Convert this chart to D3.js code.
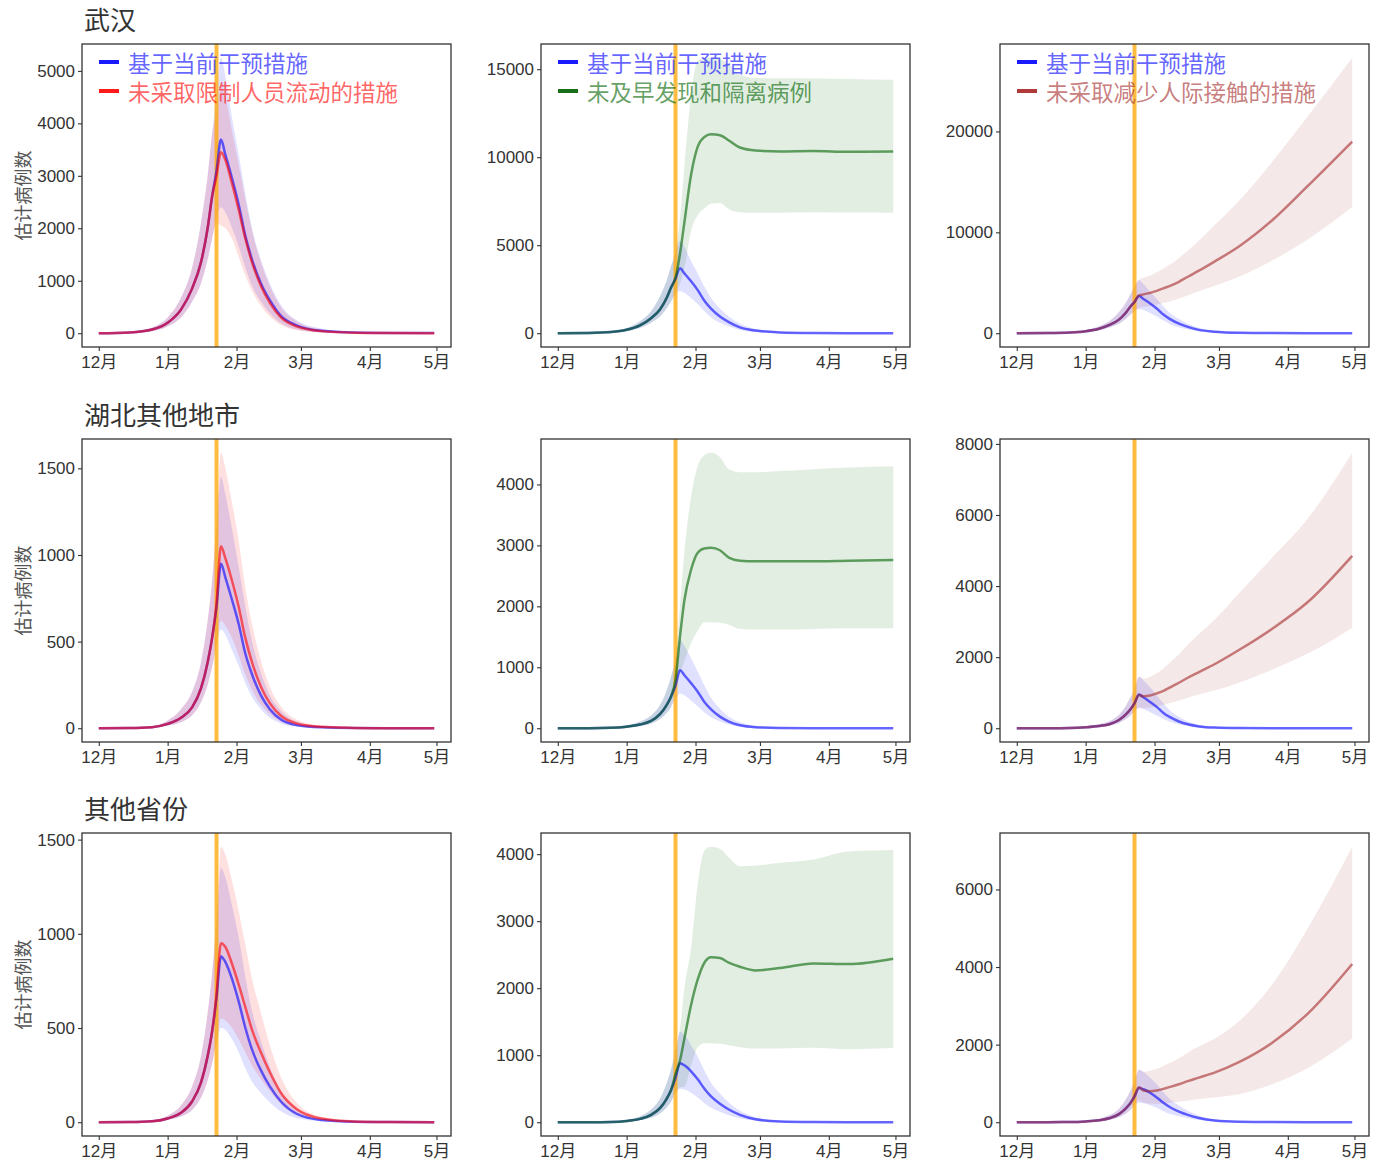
<!DOCTYPE html>
<html>
<head>
<meta charset="utf-8">
<script src="https://cdn.jsdelivr.net/npm/d3@7"></script>
<style>
  body { margin: 0; background: #fff; }
  svg text { font-family: "Liberation Sans", "Noto Sans CJK SC", sans-serif; }
  .cjk { font-family: "Noto Sans CJK SC", sans-serif; }
</style>
</head>
<body>
<svg id="chart" width="1381" height="1167"></svg>
<script>
// sampled dates (Dec 1 - Apr 30)
var dates = ["2019-12-01","2019-12-15","2019-12-25","2020-01-01","2020-01-07","2020-01-12",
  "2020-01-16","2020-01-19","2020-01-21","2020-01-23","2020-01-25","2020-01-27","2020-01-30",
  "2020-02-02","2020-02-05","2020-02-08","2020-02-12","2020-02-16","2020-02-21","2020-02-28",
  "2020-03-10","2020-03-25","2020-04-10","2020-04-30"];
var lockdown = "2020-01-23";
var monthTicks = ["2019-12-01","2020-01-01","2020-02-01","2020-03-01","2020-04-01","2020-05-01"];
var monthLabels = ["12月","1月","2月","3月","4月","5月"];

var regions = ["武汉", "湖北其他地市", "其他省份"];
var baseName = "基于当前干预措施";
var altNames = ["未采取限制人员流动的措施", "未及早发现和隔离病例", "未采取减少人际接触的措施"];
var yLabel = "估计病例数";

// baseline (current interventions), all dates
var wuhanBase   = [0,15,70,200,450,850,1350,2000,2600,3100,3690,3400,2950,2450,1850,1400,950,630,330,150,45,12,4,2];
var wuhanBaseLo = [0,8,40,130,300,600,950,1400,1800,2200,2400,2300,2000,1650,1250,900,600,380,190,70,15,3,0,0];
var wuhanBaseHi = [0,25,110,300,680,1250,2100,3000,3800,4600,5250,4900,4100,3400,2650,2000,1400,950,540,250,90,30,10,5];
var hubeiBase   = [0,1,6,25,60,120,230,380,520,700,950,870,740,600,430,310,190,110,50,18,5,1,0,0];
var hubeiBaseLo = [0,0,3,15,35,75,150,250,350,480,570,540,450,360,260,180,110,60,28,9,2,0,0,0];
var hubeiBaseHi = [0,3,12,45,110,210,380,620,850,1150,1450,1350,1150,930,700,500,320,190,100,40,12,4,1,0];
var otherBase   = [0,1,5,20,50,110,210,350,480,660,880,850,760,640,500,385,275,190,110,45,12,3,1,0];
var otherBaseLo = [0,0,2,12,30,65,130,220,310,420,500,490,440,370,285,215,155,105,58,22,5,1,0,0];
var otherBaseHi = [0,2,10,35,90,190,350,580,790,1080,1350,1300,1150,980,770,590,430,295,170,75,22,6,2,0];

// alternative scenarios, from Jan 23 on
var wuhanTravel   = [3000,3450,3300,2850,2350,1800,1350,900,580,300,130,40,10,3,1];
var wuhanTravelLo = [2100,2050,2000,1800,1450,1100,800,520,320,160,55,12,2,0,0];
var wuhanTravelHi = [4200,4700,4500,3850,3200,2550,1950,1350,900,500,230,80,25,8,4];
var wuhanDetect   = [3150,4500,6300,9000,10600,11150,11300,11250,10950,10550,10380,10330,10350,10310,10330];
var wuhanDetectLo = [2300,2800,3700,5800,6700,7100,7350,7400,7050,6880,6850,6850,6880,6860,6850];
var wuhanDetectHi = [4600,6500,9500,13500,15500,15650,15650,15550,15300,14700,14500,14480,14470,14450,14400];
var wuhanContact   = [3100,3750,3850,4000,4200,4450,4700,5100,5600,6200,7100,8600,11200,14600,19000];
var wuhanContactLo = [2200,2500,2600,2700,2850,3000,3150,3450,3750,4150,4700,5600,7200,9300,12500];
var wuhanContactHi = [4600,5300,5500,5700,6050,6400,6800,7450,8200,9200,10700,13100,17000,21500,27300];

var hubeiTravel   = [720,1050,980,850,700,520,380,240,145,72,28,8,2,0,0];
var hubeiTravelLo = [480,620,590,520,420,310,220,135,80,38,13,3,0,0,0];
var hubeiTravelHi = [1200,1590,1500,1300,1080,810,600,390,240,125,50,15,4,1,0];
var hubeiDetect   = [800,1500,2100,2600,2880,2950,2960,2920,2800,2750,2740,2740,2740,2750,2760];
var hubeiDetectLo = [600,900,1100,1400,1600,1740,1740,1730,1700,1630,1620,1620,1630,1640,1640];
var hubeiDetectHi = [1150,2000,2900,3800,4300,4480,4520,4450,4250,4200,4200,4220,4250,4280,4300];
var hubeiContact   = [700,930,900,920,980,1050,1150,1280,1420,1580,1800,2200,2800,3550,4850];
var hubeiContactLo = [470,580,560,580,620,660,710,780,860,950,1060,1280,1650,2100,2820];
var hubeiContactHi = [1000,1450,1400,1450,1550,1680,1850,2080,2350,2650,3050,3800,4800,5900,7750];

var otherTravel   = [680,950,930,840,730,610,490,370,265,155,70,20,4,1,0];
var otherTravelLo = [420,550,540,500,440,370,300,230,165,95,40,10,2,0,0];
var otherTravelHi = [1050,1462,1420,1280,1120,940,760,580,410,240,105,30,7,2,0];
var otherDetect   = [720,920,1250,1750,2130,2380,2460,2450,2380,2320,2265,2300,2370,2360,2440];
var otherDetectLo = [450,520,530,850,1120,1180,1180,1170,1150,1120,1100,1100,1110,1090,1108];
var otherDetectHi = [1050,1400,2000,2600,3550,4050,4110,4080,3950,3820,3830,3870,3920,4040,4060];
var otherContact   = [680,900,820,800,820,860,910,980,1060,1150,1280,1550,2050,2800,4080];
var otherContactLo = [470,560,500,480,470,480,500,530,560,600,640,720,980,1400,2160];
var otherContactHi = [1000,1350,1300,1330,1380,1450,1530,1650,1800,1950,2150,2600,3550,5000,7100];

// y tick values per row / column
var yTicks = [
  [[0,1000,2000,3000,4000,5000], [0,5000,10000,15000], [0,10000,20000]],
  [[0,500,1000,1500], [0,1000,2000,3000,4000], [0,2000,4000,6000,8000]],
  [[0,500,1000,1500], [0,1000,2000,3000,4000], [0,2000,4000,6000]]
];

var baseColor = "#0000ff";
var altColors = ["#ff0000", "#006400", "#a52a2a"];
var altKeyColors = ["#ff1a1a", "#1a6e1a", "#b03a3a"];

var parse = d3.timeParse("%Y-%m-%d");
var xDates = dates.map(parse);

function series(mean, lo, hi) {
  return xDates.map(function (d, i) { return {date: d, v: mean[i], lo: lo[i], hi: hi[i]}; });
}
// alt scenarios share the baseline before Jan 23
function joinAlt(base, alt) {
  return base.slice(0, dates.length - alt.length).concat(alt);
}

var baseData = [
  [wuhanBase, wuhanBaseLo, wuhanBaseHi],
  [hubeiBase, hubeiBaseLo, hubeiBaseHi],
  [otherBase, otherBaseLo, otherBaseHi]
];
var altData = [
  [[wuhanTravel, wuhanTravelLo, wuhanTravelHi], [wuhanDetect, wuhanDetectLo, wuhanDetectHi], [wuhanContact, wuhanContactLo, wuhanContactHi]],
  [[hubeiTravel, hubeiTravelLo, hubeiTravelHi], [hubeiDetect, hubeiDetectLo, hubeiDetectHi], [hubeiContact, hubeiContactLo, hubeiContactHi]],
  [[otherTravel, otherTravelLo, otherTravelHi], [otherDetect, otherDetectLo, otherDetectHi], [otherContact, otherContactLo, otherContactHi]]
];

var svg = d3.select("#chart");
var colLeft = [82, 541, 1000], rowTop = [44, 439, 833];
var pw = 369, ph = 303;

// shared x scale (5% expansion like ggplot)
var xExt = d3.extent(xDates);
var xPad = (xExt[1] - xExt[0]) * 0.05;
var x = d3.scaleTime()
  .domain([new Date(+xExt[0] - xPad), new Date(+xExt[1] + xPad)])
  .range([0, pw]);

function drawPanel(r, c) {
  var b = baseData[r];
  var a = altData[r][c];
  var base = series(b[0], b[1], b[2]);
  var alt = series(joinAlt(b[0], a[0]), joinAlt(b[1], a[1]), joinAlt(b[2], a[2]));

  var lo = d3.min(base.concat(alt), function (d) { return d.lo; });
  var hi = d3.max(base.concat(alt), function (d) { return d.hi; });
  var pad = (hi - lo) * 0.05;
  var y = d3.scaleLinear().domain([lo - pad, hi + pad]).range([ph, 0]);

  var g = svg.append("g")
    .attr("transform", "translate(" + colLeft[c] + "," + rowTop[r] + ")");

  var area = d3.area().curve(d3.curveMonotoneX)
    .x(function (d) { return x(d.date); })
    .y0(function (d) { return y(d.lo); })
    .y1(function (d) { return y(d.hi); });
  var line = d3.line().curve(d3.curveMonotoneX)
    .x(function (d) { return x(d.date); })
    .y(function (d) { return y(d.v); });

  // bands
  g.append("path").datum(base).attr("d", area)
    .attr("fill", baseColor).attr("fill-opacity", 0.12);
  g.append("path").datum(alt).attr("d", area)
    .attr("fill", altColors[c]).attr("fill-opacity", c === 0 ? 0.12 : 0.11);

  // lockdown line
  g.append("line")
    .attr("x1", x(parse(lockdown))).attr("x2", x(parse(lockdown)))
    .attr("y1", 0).attr("y2", ph)
    .attr("stroke", "#ffa500").attr("stroke-opacity", 0.75).attr("stroke-width", 4);

  // lines
  g.append("path").datum(base).attr("d", line)
    .attr("fill", "none").attr("stroke", baseColor).attr("stroke-opacity", 0.6).attr("stroke-width", 2.5);
  g.append("path").datum(alt).attr("d", line)
    .attr("fill", "none").attr("stroke", altColors[c]).attr("stroke-opacity", 0.6).attr("stroke-width", 2.5);

  // axes
  var yAxis = g.append("g")
    .call(d3.axisLeft(y).tickValues(yTicks[r][c]).tickSize(4).tickPadding(3).tickFormat(d3.format("d")));
  var xAxis = g.append("g")
    .attr("transform", "translate(0," + ph + ")")
    .call(d3.axisBottom(x).tickValues(monthTicks.map(parse)).tickSize(4).tickPadding(5)
      .tickFormat(function (d, i) { return monthLabels[i]; }));
  [yAxis, xAxis].forEach(function (ax) {
    ax.select(".domain").remove();
    ax.selectAll(".tick line").attr("stroke", "#333").attr("stroke-width", 1.1);
    ax.selectAll(".tick text").attr("fill", "#333").attr("font-size", "17px")
      .style("font-family", "'Liberation Sans', 'Noto Sans CJK SC', sans-serif");
  });

  // panel border
  g.append("rect").attr("width", pw).attr("height", ph)
    .attr("fill", "none").attr("stroke", "#333").attr("stroke-width", 1.3);

  // region title and y label
  if (c === 0) {
    g.append("text").attr("class", "cjk")
      .attr("x", 2).attr("y", -14)
      .attr("font-size", "26px").attr("fill", "#333")
      .text(regions[r]);
    g.append("text").attr("class", "cjk")
      .attr("transform", "translate(-60," + ph / 2 + ")rotate(-90)")
      .attr("text-anchor", "middle").attr("dominant-baseline", "central")
      .attr("font-size", "18px").attr("fill", "#555")
      .text(yLabel);
  }

  // legend (top row only)
  if (r === 0) {
    var items = [
      {name: baseName, key: "#1a1aff", col: baseColor},
      {name: altNames[c], key: altKeyColors[c], col: altColors[c]}
    ];
    var lg = g.append("g").attr("transform", "translate(17,18)");
    items.forEach(function (it, i) {
      lg.append("line").attr("x1", 0).attr("x2", 20)
        .attr("y1", i * 29).attr("y2", i * 29)
        .attr("stroke", it.key).attr("stroke-width", 4);
      lg.append("text").attr("class", "cjk")
        .attr("x", 29).attr("y", i * 29)
        .attr("dominant-baseline", "central")
        .attr("font-size", "22.5px").attr("fill", it.col).attr("fill-opacity", 0.62)
        .text(it.name);
    });
  }
}

for (var r = 0; r < 3; r++) {
  for (var c = 0; c < 3; c++) {
    drawPanel(r, c);
  }
}
</script>
</body>
</html>
